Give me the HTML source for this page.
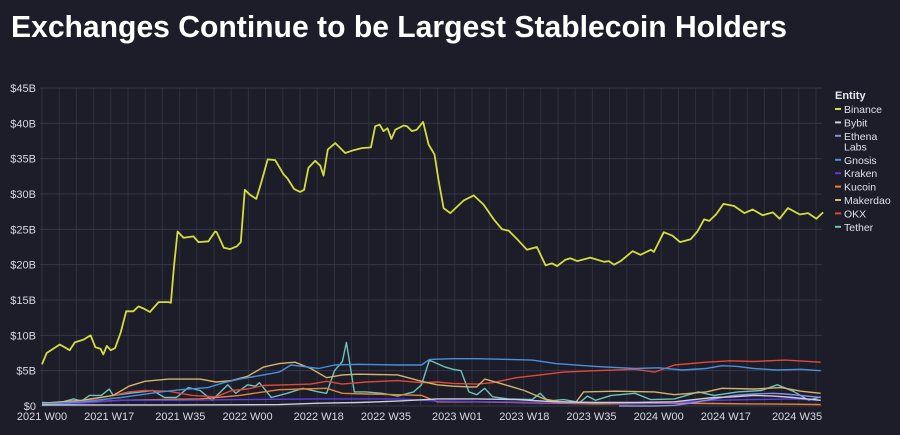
<!DOCTYPE html>
<html><head><meta charset="utf-8"><style>
html,body{margin:0;padding:0;background:#1c1d28;width:900px;height:435px;overflow:hidden}
svg{display:block}
text{font-family:"Liberation Sans",sans-serif}
</style></head><body>
<svg width="900" height="435">
<rect width="900" height="435" fill="#1c1d28"/>
<text x="11" y="37" fill="#fff" font-size="31" font-weight="bold" textLength="776" lengthAdjust="spacingAndGlyphs">Exchanges Continue to be Largest Stablecoin Holders</text>
<g id="grid"></g><g id="yaxis"></g><g id="xaxis"></g><g id="series"></g><g id="legend"></g>
</svg>
<script>
const yTicks=[0,5,10,15,20,25,30,35,40,45];
const yTickLabels=["$0","$5B","$10B","$15B","$20B","$25B","$30B","$35B","$40B","$45B"];
const xTickWeeks=[0,17,35,52,70,87,105,122,139,156,173,191];
const xTickLabels=["2021 W00","2021 W17","2021 W35","2022 W00","2022 W18","2022 W35","2023 W01","2023 W18","2023 W35","2024 W00","2024 W17","2024 W35"];
const entities=["Binance","Bybit","Ethena Labs","Gnosis","Kraken","Kucoin","Makerdao","OKX","Tether"];
const colors=["#d4dd3a","#cfcfd8","#8a8ee8","#4a8fdd","#5b3de8","#e8843a","#d2b56a","#e0483a","#6cc4bc"];
const binanceWeeks=[0,1.2,4.5,7,8.3,10.5,12.3,13.5,14.8,15.5,16.4,17.4,18.5,19.9,21.3,23.1,24.4,25.7,27.3,29.5,32,32.6,33.4,34.3,35.8,38.3,39.6,42.1,43.8,44.2,46,47.6,49.3,50.3,51.3,52.6,54.2,55.4,57.1,59,61.1,62.1,63.8,65.3,66.3,67.4,69.1,70.4,71.2,72.3,74.2,76.7,78.8,80.9,83.2,84.3,85.4,86.4,87.4,88.4,89.4,91.5,92.3,93.6,94.8,96.4,97.8,99.3,100.3,101.6,103.3,106.7,109.2,111.7,114.3,116.4,118.1,120.2,122.7,125.2,127.4,129,130.3,132.4,133.7,135.4,138.7,142.2,143.4,144.7,146.4,149.4,151.4,154,154.8,157.3,159.5,161.4,164.1,165.8,167.5,168.8,170.5,172.4,175.1,177.7,179.8,182.3,184.9,186.6,188.7,191.7,193.8,195.9,197.6];
const binanceValues=[5.9,7.5,8.7,7.9,9.0,9.4,10.0,8.3,8.1,7.3,8.5,7.9,8.2,10.4,13.4,13.4,14.1,13.8,13.3,14.7,14.7,14.6,19.8,24.7,23.8,24.0,23.2,23.3,24.7,24.6,22.4,22.2,22.6,23.2,30.6,29.9,29.3,31.5,34.9,34.8,32.8,32.2,30.7,30.3,30.6,33.7,34.7,34.0,32.6,36.3,37.2,35.8,36.2,36.5,36.6,39.6,39.8,38.9,39.3,37.8,39.1,39.7,39.6,38.9,39.1,40.2,37.0,35.6,32.0,28.0,27.3,29.1,29.8,28.5,26.4,25.0,24.8,23.6,22.1,22.5,19.9,20.2,19.8,20.7,20.9,20.5,21.0,20.4,20.5,20.0,20.5,21.9,21.4,22.1,21.8,24.6,24.1,23.2,23.6,24.7,26.4,26.2,27.1,28.6,28.3,27.3,27.8,27.0,27.4,26.5,28.0,27.1,27.3,26.5,27.4];
const bybitWeeks=[0,30,60,70,80,90,100,110,120,130,140,150,160,165,170,175,180,185,190,197];
const bybitValues=[0.15,0.15,0.2,0.4,0.5,0.7,1.0,1.0,0.9,0.6,0.5,0.5,0.6,0.9,1.2,1.3,1.5,1.4,1.2,0.8];
const ethenaWeeks=[146,150,155,160,164,168,172,175,180,185,188,192,197];
const ethenaValues=[0,0,0,0.1,0.4,0.8,1.2,1.5,1.7,1.8,1.7,1.5,1.2];
const gnosisWeeks=[0,10,20,30,35,42,46,50,56,60,63,66,70,74,80,90,96,98,104,110,118,124,130,140,150,156,162,168,172,176,180,186,192,197];
const gnosisValues=[0.3,0.6,1.2,2.0,2.3,2.6,3.3,3.8,4.4,4.8,5.8,5.6,5.3,5.8,5.9,5.8,5.8,6.6,6.7,6.7,6.6,6.5,6.0,5.6,5.3,5.4,5.1,5.3,5.7,5.6,5.3,5.1,5.2,5.0];
const krakenWeeks=[0,10,20,35,50,70,90,100,115,130,150,160,170,180,190,197];
const krakenValues=[0.1,0.4,0.8,0.8,0.9,1.0,1.0,0.7,0.6,0.5,0.4,0.5,0.8,0.9,1.0,0.8];
const kucoinWeeks=[0,10,20,30,40,50,56,60,66,72,76,82,90,96,100,110,120,130,140,150,160,170,180,190,197];
const kucoinValues=[0.2,0.5,0.8,0.9,1.0,1.5,2.0,2.3,2.4,2.5,1.8,1.7,1.6,1.5,0.6,0.6,0.5,0.4,0.3,0.35,0.4,0.35,0.3,0.25,0.2];
const makerWeeks=[0,10,18,22,26,32,40,44,48,52,56,60,64,68,72,76,80,90,96,100,104,108,110,112,116,122,127,131,135,137,145,155,160,164,168,172,180,187,192,197];
const makerValues=[0.4,0.8,1.5,2.8,3.5,3.8,3.8,3.4,3.6,4.2,5.5,6.0,6.2,5.3,4.0,4.4,4.5,4.4,3.5,3.0,2.8,2.7,2.7,3.8,3.2,2.2,1.0,0.6,0.5,2.0,2.1,2.0,1.6,1.8,2.0,2.5,2.4,2.6,2.1,1.8];
const okxWeeks=[0,10,18,22,26,32,38,44,48,52,56,62,68,72,76,82,90,96,100,104,110,114,120,126,132,140,150,155,160,168,174,180,188,197];
const okxValues=[0.3,0.7,1.5,2.0,2.2,2.1,1.5,1.3,2.2,2.4,2.9,3.0,3.1,3.5,3.1,3.4,3.6,3.3,3.4,3.2,3.1,3.3,4.0,4.4,4.8,5.0,5.2,4.8,5.8,6.2,6.4,6.3,6.5,6.2];
const tetherWeeks=[0,4,8,10,12,15,17,18,22,28,31,34,37,40,43,47,49,52,54,55,58,62,66,70,72,74,76,77,79,82,86,90,94,96,98,102,104,106,108,110,112,114,118,124,126,128,132,136,138,140,144,150,154,160,166,170,176,182,186,190,194,197];
const tetherValues=[0.5,0.4,1.0,0.7,1.5,1.5,2.4,1.5,1.8,2.2,1.2,1.2,2.6,2.2,0.8,3.0,1.8,3.0,2.8,3.3,1.2,1.8,2.5,2.0,1.8,5.0,6.3,9.0,2.0,2.0,1.8,1.4,2.0,3.0,6.5,5.5,5.2,5.0,2.0,1.6,2.5,1.3,1.0,0.9,1.8,0.7,0.9,0.5,1.4,0.8,1.5,1.8,0.9,1.0,2.0,1.5,2.0,2.2,3.0,2.1,0.8,1.3];
const seriesWeeks=[binanceWeeks,bybitWeeks,ethenaWeeks,gnosisWeeks,krakenWeeks,kucoinWeeks,makerWeeks,okxWeeks,tetherWeeks];
const seriesValues=[binanceValues,bybitValues,ethenaValues,gnosisValues,krakenValues,kucoinValues,makerValues,okxValues,tetherValues];

const NS="http://www.w3.org/2000/svg";
const X0=42,PXW=3.953,Y0=406,PXV=318/45,LEFT=40,RIGHT=822,TOP=88;
const xs=w=>X0+w*PXW, ys=v=>Y0-v*PXV;
function mk(t,a,p){const e=document.createElementNS(NS,t);for(const k in a)e.setAttribute(k,a[k]);p.appendChild(e);return e;}
const grid=document.getElementById('grid'),ya=document.getElementById('yaxis'),xa=document.getElementById('xaxis'),sg=document.getElementById('series'),lg=document.getElementById('legend');
for(let x=LEFT+2;x<=RIGHT;x+=17.2){const l=mk('line',{x1:x,x2:x,y1:TOP,y2:Y0,stroke:'#2f3140','stroke-width':1},grid);

}
yTicks.forEach((v,i)=>{const y=ys(v);
const l=mk('line',{x1:LEFT,x2:RIGHT,y1:y,y2:y,stroke:'#34364a','stroke-width':1},grid);


const t=mk('text',{x:36,y:y+4,fill:'#d8d8e0','font-size':11,'text-anchor':'end'},ya);t.textContent=yTickLabels[i];

});
xTickWeeks.forEach((w,i)=>{const t=mk('text',{x:xs(w),y:420,fill:'#d8d8e0','font-size':11,'text-anchor':'middle'},xa);t.textContent=xTickLabels[i];

});
for(let s=seriesWeeks.length-1;s>=0;s--){const W=seriesWeeks[s],V=seriesValues[s];
const d=W.map((w,i)=>(i?'L':'M')+xs(w).toFixed(1)+','+ys(V[i]).toFixed(1)).join('');
const p=mk('path',{d:d,fill:'none',stroke:colors[s],'stroke-width':s===0?1.8:1.4,'stroke-linejoin':'round'},sg);

}
const lt=mk('text',{x:835,y:99,fill:'#e8e8ee','font-size':11,'font-weight':'bold'},lg);lt.textContent='Entity';


let ly=113;
entities.forEach((n,i)=>{const g=mk('g',{},lg);


mk('line',{x1:835,x2:841,y1:ly-4,y2:ly-4,stroke:colors[i],'stroke-width':2},g);
if(n==='Ethena Labs'){const t=mk('text',{x:844,y:ly,fill:'#e0e0e8','font-size':10.5},g);t.textContent='Ethena';
const t2=mk('text',{x:844,y:ly+10.5,fill:'#e0e0e8','font-size':10.5},g);t2.textContent='Labs';ly+=24;}
else{const t=mk('text',{x:844,y:ly,fill:'#e0e0e8','font-size':10.5},g);t.textContent=n;ly+=13.4;}});
</script>
</body></html>
